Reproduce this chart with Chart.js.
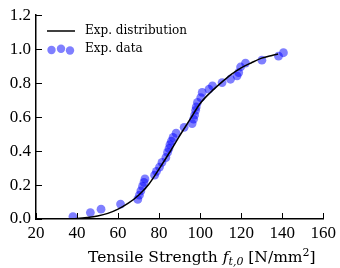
<!DOCTYPE html>
<html>
<head>
<meta charset="utf-8">
<script src="https://cdn.jsdelivr.net/npm/chart.js@4"></script>
<style>
  html, body { margin: 0; padding: 0; background: #fff; }
</style>
</head>
<body>
<canvas id="chart" width="340" height="268"></canvas>
<script>
// measured strengths and their empirical probabilities
const dataX = [38.0, 46.5, 51.7, 61.2, 69.6, 70.4, 71.1, 71.9, 72.6, 73.1,
               77.8, 78.7, 80.2, 81.4, 83.3, 84.1, 84.8, 85.3, 86.0, 86.8,
               88.3, 92.2, 96.1, 96.8, 97.3, 97.8, 98.1, 98.7, 100.3, 101.0,
               104.3, 106.0, 110.7, 114.8, 118.0, 118.8, 119.7, 122.1, 130.1, 138.2, 140.6];
const dataY = [0.014, 0.038, 0.058, 0.088, 0.115, 0.140, 0.165, 0.192, 0.215, 0.236,
               0.258, 0.280, 0.306, 0.334, 0.362, 0.392, 0.415, 0.438, 0.458, 0.480,
               0.505, 0.540, 0.562, 0.588, 0.612, 0.640, 0.660, 0.687, 0.715, 0.745,
               0.764, 0.784, 0.803, 0.823, 0.843, 0.862, 0.895, 0.918, 0.935, 0.959, 0.979];

// fitted distribution curve
const curveX = [36, 40, 45, 50, 55, 60, 65, 70, 75, 80, 85, 90, 95, 100, 105, 110, 115, 120, 125, 130, 135, 138];
const curveY = [0.0, 0.003, 0.009, 0.018, 0.033, 0.058, 0.093, 0.14, 0.205, 0.295, 0.39, 0.49, 0.585, 0.68, 0.745, 0.80, 0.85, 0.89, 0.92, 0.947, 0.963, 0.971];

const seriesNames = ['Exp. distribution', 'Exp. data'];
const xTicks = [20, 40, 60, 80, 100, 120, 140, 160];
const yTicks = [0.0, 0.2, 0.4, 0.6, 0.8, 1.0, 1.2];

const tickFont = { family: 'Liberation Serif', size: 17 };
const pointColor = 'rgba(0,0,255,0.5)';

// ticks pointing into the plot, like matplotlib 'in'
const inTicks = {
    id: 'inTicks',
    afterDraw(chart) {
        const { ctx, chartArea, scales } = chart;
        ctx.save();
        ctx.strokeStyle = '#000';
        ctx.lineWidth = 1;
        xTicks.forEach(v => {
            const px = Math.round(scales.x.getPixelForValue(v)) + 0.5;
            ctx.beginPath();
            ctx.moveTo(px, chartArea.bottom);
            ctx.lineTo(px, chartArea.bottom - 6);
            ctx.stroke();
        });
        yTicks.forEach(v => {
            const py = Math.round(scales.y.getPixelForValue(v)) + 0.5;
            ctx.beginPath();
            ctx.moveTo(chartArea.left, py);
            ctx.lineTo(chartArea.left + 6, py);
            ctx.stroke();
        });
        ctx.restore();
    }
};

// legend with a line sample and three markers
const legendBox = {
    id: 'legendBox',
    afterDraw(chart) {
        const ctx = chart.ctx;
        ctx.save();
        ctx.strokeStyle = '#000';
        ctx.lineWidth = 1.5;
        ctx.beginPath();
        ctx.moveTo(47, 31);
        ctx.lineTo(75, 31);
        ctx.stroke();
        ctx.fillStyle = pointColor;
        [[51.5, 50], [61, 48.7], [70, 50.5]].forEach(p => {
            ctx.beginPath();
            ctx.arc(p[0], p[1], 4.2, 0, Math.PI * 2);
            ctx.fill();
        });
        ctx.fillStyle = '#000';
        ctx.font = '12px "DejaVu Serif"';
        ctx.textBaseline = 'middle';
        ctx.fillText(seriesNames[0], 85, 31);
        ctx.fillText(seriesNames[1], 85, 49);
        ctx.restore();
    }
};

// x axis title with italic symbol, subscript and superscript
const xTitle = {
    id: 'xTitle',
    afterDraw(chart) {
        const ctx = chart.ctx;
        const base = 262;
        let x = 88;
        const parts = [
            { t: 'Tensile Strength ', f: '15.5px "DejaVu Serif"', dy: 0 },
            { t: 'f', f: 'italic 15.5px "DejaVu Serif"', dy: 0 },
            { t: 't,0', f: 'italic 11px "DejaVu Serif"', dy: 3 },
            { t: ' [N/mm', f: '15.5px "DejaVu Serif"', dy: 0 },
            { t: '2', f: '11px "DejaVu Serif"', dy: -6 },
            { t: ']', f: '15.5px "DejaVu Serif"', dy: 0 }
        ];
        ctx.save();
        ctx.fillStyle = '#000';
        ctx.textBaseline = 'alphabetic';
        parts.forEach(p => {
            ctx.font = p.f;
            ctx.fillText(p.t, x, base + p.dy);
            x += ctx.measureText(p.t).width;
        });
        ctx.restore();
    }
};

new Chart(document.getElementById('chart'), {
    type: 'scatter',
    data: {
        datasets: [
            {
                label: seriesNames[0],
                data: curveX.map((x, i) => ({ x: x, y: curveY[i] })),
                showLine: true,
                borderColor: '#000',
                borderWidth: 1.5,
                pointRadius: 0,
                cubicInterpolationMode: 'monotone',
                order: 0
            },
            {
                label: seriesNames[1],
                data: dataX.map((x, i) => ({ x: x, y: dataY[i] })),
                backgroundColor: pointColor,
                borderWidth: 0,
                pointRadius: 4.4,
                order: 1
            }
        ]
    },
    options: {
        responsive: false,
        animation: false,
        devicePixelRatio: 1,
        layout: { padding: { top: 14, right: 15, bottom: 0, left: 0 } },
        plugins: {
            legend: { display: false },
            tooltip: { enabled: false }
        },
        scales: {
            x: {
                type: 'linear',
                min: 20,
                max: 160,
                afterFit: s => { s.height = 49; },
                afterBuildTicks: s => { s.ticks = xTicks.map(v => ({ value: v })); },
                grid: { display: false, drawTicks: false },
                border: { display: true, color: '#000', width: 1.5 },
                ticks: { font: tickFont, color: '#000', padding: 4, maxRotation: 0 }
            },
            y: {
                min: 0,
                max: 1.2,
                afterFit: s => { s.width = 36; },
                afterBuildTicks: s => { s.ticks = yTicks.map(v => ({ value: v })); },
                grid: { display: false, drawTicks: false },
                border: { display: true, color: '#000', width: 1.5 },
                ticks: { font: tickFont, color: '#000', padding: 5, callback: v => v.toFixed(1) }
            }
        }
    },
    plugins: [inTicks, legendBox, xTitle]
});
</script>
</body>
</html>
